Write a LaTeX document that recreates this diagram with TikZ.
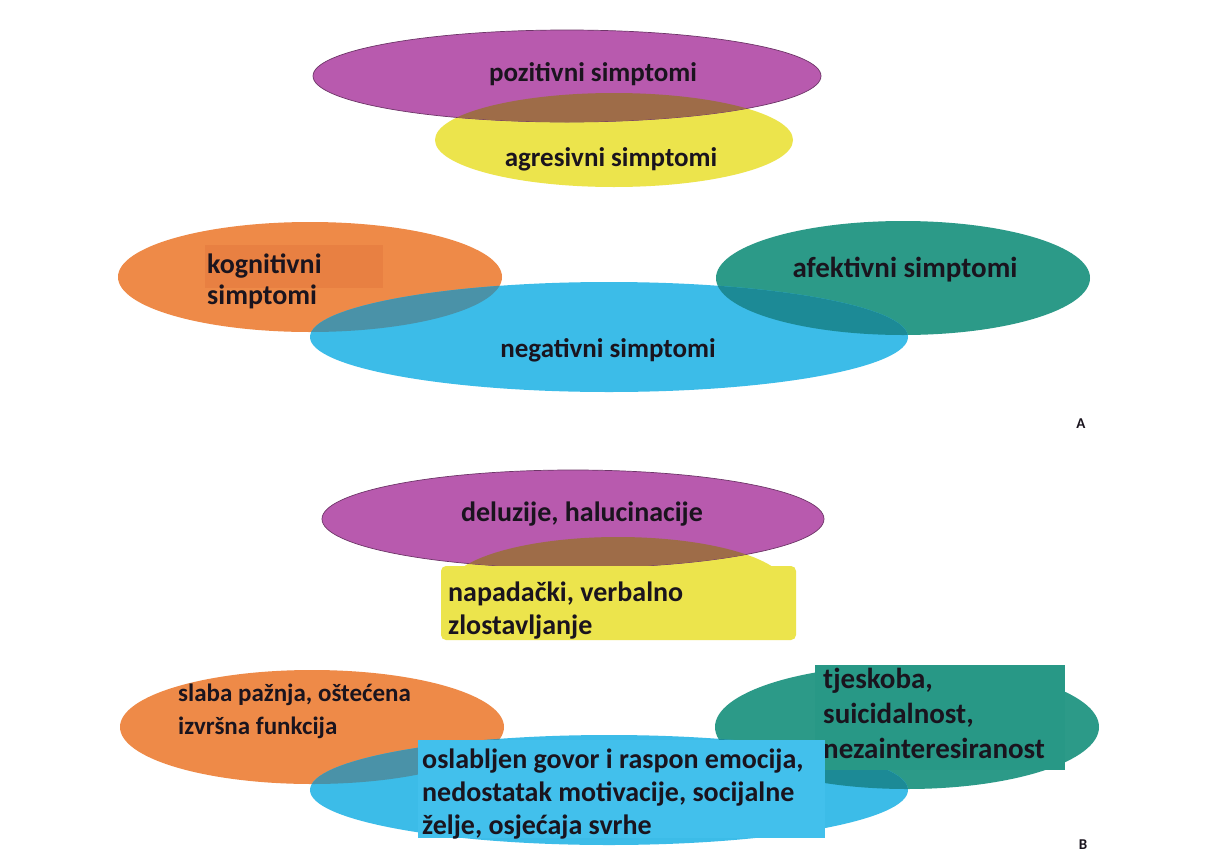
\documentclass[tikz,border=0pt]{standalone}
\usepackage{fontspec}
\setmainfont{Carlito}
\definecolor{purp1}{RGB}{184, 90, 174}
\definecolor{yell1}{RGB}{236, 228, 76}
\definecolor{brown1}{RGB}{158, 108, 72}
\definecolor{oran1}{RGB}{238, 138, 72}
\definecolor{oranbox}{RGB}{232, 128, 66}
\definecolor{teal1}{RGB}{44, 154, 136}
\definecolor{tealbox}{RGB}{40, 152, 134}
\definecolor{sky1}{RGB}{60, 188, 232}
\definecolor{skybox}{RGB}{66, 192, 236}
\definecolor{ovblor}{RGB}{74, 146, 168}
\definecolor{ovblte}{RGB}{28, 138, 150}
\definecolor{txt1}{RGB}{26, 20, 30}
\usetikzlibrary{positioning}

\begin{document}
\begin{tikzpicture}[x=1pt, y=-1pt,
  lbl/.style={text=txt1, font=\bfseries\fontsize{27}{32}\selectfont, inner sep=0pt, anchor=base},
  boxlbl/.style={text=txt1, align=left, anchor=north west, inner sep=0pt},
  edge/.style={line width=0.7pt}]
  \useasboundingbox[fill=white] (0,0) rectangle (1215,854);

  % A: pozitivni / agresivni
  \fill[yell1] (614,140) ellipse[x radius=179pt, y radius=47pt];
  \filldraw[purp1, draw=purp1!60!black, edge] (567,76) ellipse[x radius=254pt, y radius=46pt];
  \begin{scope}
    \clip (567,76) ellipse[x radius=254pt, y radius=46pt];
    \fill[brown1] (614,140) ellipse[x radius=179pt, y radius=47pt];
  \end{scope}
  \node[lbl] (pozA) at (593,81) {pozitivni simptomi};
  \node[lbl] (agrA) at (611,166) {agresivni simptomi};

  % A: kognitivni / afektivni / negativni
  \fill[oran1] (310,277) ellipse[x radius=192pt, y radius=55pt];
  \fill[teal1] (903,278) ellipse[x radius=187pt, y radius=57pt];
  \fill[sky1] (609,337) ellipse[x radius=299pt, y radius=55pt];
  \begin{scope}
    \clip (609,337) ellipse[x radius=299pt, y radius=55pt];
    \fill[ovblor] (310,277) ellipse[x radius=192pt, y radius=55pt];
    \fill[ovblte] (903,278) ellipse[x radius=187pt, y radius=57pt];
  \end{scope}
  \fill[oranbox] (205,245) rectangle (383,288);
  \node[boxlbl, font=\bfseries\fontsize{28}{31}\selectfont] (kogA) at (207,254) {kognitivni\\simptomi};
  \node[lbl, font=\bfseries\fontsize{29}{32}\selectfont] (afeA) at (905,277) {afektivni simptomi};
  \node[lbl] (negA) at (608,357) {negativni simptomi};
  \node[lbl, font=\bfseries\fontsize{15}{16}\selectfont] (labA) at (1081,428) {A};

  % B: deluzije / napadacki
  \fill[yell1] (618,588) ellipse[x radius=170pt, y radius=51pt];
  \filldraw[purp1, draw=purp1!60!black, edge] (573,519) ellipse[x radius=251pt, y radius=49pt];
  \begin{scope}
    \clip (573,519) ellipse[x radius=251pt, y radius=49pt];
    \fill[brown1] (618,588) ellipse[x radius=170pt, y radius=51pt];
  \end{scope}
  \node[lbl, font=\bfseries\fontsize{28}{32}\selectfont] (delB) at (582,521) {deluzije, halucinacije};
  \fill[yell1, rounded corners=5pt] (441,566) rectangle (796,640);
  \node[boxlbl, font=\bfseries\fontsize{28}{33}\selectfont] (napB) at (448,582) {napadački, verbalno\\zlostavljanje};

  % B: kognitivni / afektivni / negativni
  \fill[oran1] (312,727) ellipse[x radius=192pt, y radius=57pt];
  \fill[teal1] (907,727) ellipse[x radius=192pt, y radius=62pt];
  \fill[sky1] (609,790) ellipse[x radius=299pt, y radius=55pt];
  \begin{scope}
    \clip (609,790) ellipse[x radius=299pt, y radius=55pt];
    \fill[ovblor] (312,727) ellipse[x radius=192pt, y radius=57pt];
    \fill[ovblte] (907,727) ellipse[x radius=192pt, y radius=62pt];
  \end{scope}
  \node[boxlbl, font=\bfseries\fontsize{25}{33}\selectfont] (kogB) at (178,684) {slaba pažnja, oštećena\\izvršna funkcija};
  \fill[tealbox] (815,665) rectangle (1065,770);
  \node[boxlbl, font=\bfseries\fontsize{29}{35}\selectfont] (afeB) at (823,668) {tjeskoba,\\suicidalnost,\\nezainteresiranost};
  \fill[skybox] (418,740) rectangle (825,838);
  \node[boxlbl, font=\bfseries\fontsize{28}{33}\selectfont] (negB) at (422,749) {oslabljen govor i raspon emocija,\\nedostatak motivacije, socijalne\\želje, osjećaja svrhe};
  \node[lbl, font=\bfseries\fontsize{15}{16}\selectfont] (labB) at (1083,849) {B};
\end{tikzpicture}
\end{document}
